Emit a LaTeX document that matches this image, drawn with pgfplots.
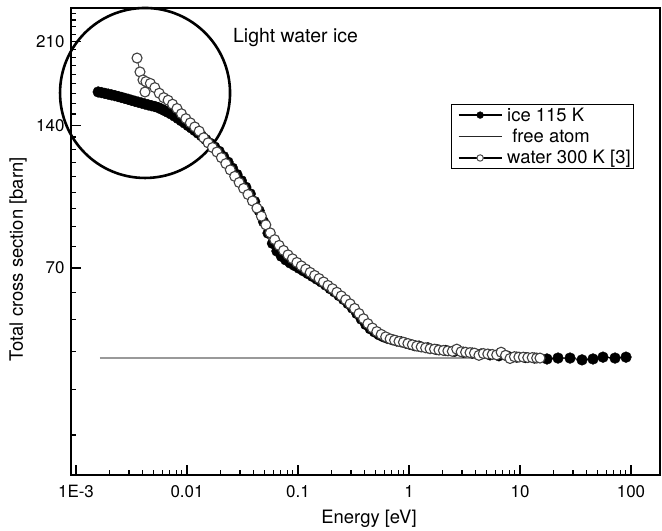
\documentclass[border=0pt]{standalone}
\usepackage{fontspec}
\setmainfont{TeX Gyre Heros}
\usepackage{pgfplots}
\pgfplotsset{compat=1.18}

\begin{document}
\begin{tikzpicture}
\useasboundingbox (-71bp,-56bp) rectangle (591bp,475bp);
\begin{axis}[
  at={(0,0)}, anchor=south west,
  scale only axis,
  width=589bp, height=467bp,
  xmode=log, ymode=log,
  xmin=9.015e-4, xmax=182.5,
  ymin=25.62, ymax=247.3,
  clip=false,
  xtick={0.001,0.01,0.1,1,10,100},
  xticklabels={1E-3,0.01,0.1,1,10,100},
  minor xtick={0.002,0.003,0.004,0.005,0.006,0.007,0.008,0.009,
    0.02,0.03,0.04,0.05,0.06,0.07,0.08,0.09,
    0.2,0.3,0.4,0.5,0.6,0.7,0.8,0.9,
    2,3,4,5,6,7,8,9,20,30,40,50,60,70,80,90},
  ytick={70,140,210},
  yticklabels={70,140,210},
  minor ytick={31.11,38.89,46.67,54.44,62.22,77.78,85.56,93.33,101.1,108.9,116.7,124.4,132.2,
    147.8,155.6,163.3,171.1,178.9,186.7,194.4,202.2,217.8,225.6,233.3,241.1},
  xtick pos=bottom, ytick pos=left,
  major tick length=10bp, minor tick length=5bp,
  every tick/.style={black, line width=1.1bp},
  axis line style={line width=1.5bp},
  tick label style={font=\fontsize{17}{20}\selectfont},
  xticklabel style={yshift=-7bp},
  yticklabel style={xshift=-3bp},
  /pgf/number format/assume math mode=true,
  xlabel={Energy [eV]},
  ylabel={Total cross section [barn]},
  xlabel style={at={(axis description cs:0.506,-0.1028)}, anchor=base, font=\fontsize{18.5}{22}\selectfont},
  ylabel style={at={(axis description cs:-0.0815,0.462)}, anchor=base, font=\fontsize{18.5}{22}\selectfont},
  legend style={at={(axis description cs:0.956,0.794)}, anchor=north east,
    font=\fontsize{18.5}{21}\selectfont, draw=black, line width=0.9bp,
    inner xsep=1bp, inner ysep=1bp, row sep=2.5bp, cells={anchor=west}},
  legend image code/.code={
    \path (-6bp,0bp) (46bp,0bp);
    \draw[mark repeat=2,mark phase=2,#1] plot coordinates {(0bp,0bp) (21.5bp,0bp) (43bp,0bp)};},
]

% ice 115 K
\addplot[draw=black, line width=1bp, mark=*, mark size=5.4bp,
  mark options={solid, fill=black, draw=black, line width=0.4bp},
  legend image post style={mark size=3.4bp, line width=1.2bp}] table {
E v
0.001585 164.5
0.001698 164.0
0.001820 163.4
0.001950 162.8
0.002089 162.2
0.002239 161.6
0.002399 160.9
0.002570 160.2
0.002754 159.5
0.002951 158.8
0.003162 158.0
0.003388 157.3
0.003631 156.6
0.003890 155.9
0.004169 155.2
0.004467 154.5
0.004786 153.9
0.005129 153.3
0.005495 152.5
0.005888 151.4
0.006310 150.2
0.006761 149.0
0.007244 147.7
0.007762 146.2
0.008318 144.6
0.008913 143.0
0.009550 141.4
0.01023 139.7
0.01096 138.1
0.01175 136.4
0.01259 134.7
0.01349 133.0
0.01479 130.5
0.01622 128.2
0.01778 125.9
0.01950 123.3
0.02138 120.2
0.02344 117.0
0.02570 113.6
0.02818 110.2
0.03090 106.9
0.03388 103.6
0.03715 100.3
0.04074 96.6
0.04467 92.4
0.04898 87.6
0.05370 82.9
0.05888 78.9
0.06457 76.0
0.07079 74.1
0.07762 72.8
0.08511 71.7
0.09333 70.8
0.1023 69.9
0.1122 69.0
0.1230 68.1
0.1349 67.2
0.1479 66.3
0.1622 65.4
0.1778 64.4
0.1950 63.3
0.2138 62.3
0.2344 61.2
0.2570 60.1
0.2818 58.9
0.3090 57.6
0.3388 56.1
0.3715 54.6
0.4074 53.2
0.4467 52.1
0.4898 51.3
0.5370 50.6
0.5888 50.1
0.6457 49.7
0.7079 49.4
0.7762 49.1
0.8511 48.9
0.9333 48.6
1.023 48.3
1.122 48.0
1.230 47.9
1.479 47.5
1.778 47.1
2.138 46.9
2.570 46.7
3.090 46.5
3.715 46.3
4.467 46.1
5.370 45.9
6.457 45.7
7.762 45.6
9.333 45.4
11.22 45.3
13.49 45.2
17.51 45.0
22.00 45.2
28.22 45.2
36.20 44.8
45.46 45.0
55.93 45.4
71.76 45.2
90.16 45.4
};
\addlegendentry{ice 115 K}

% free atom
\addplot[draw=black!40, line width=2bp, mark=none,
  legend image post style={draw=black!85, line width=1.2bp}] coordinates {
(0.001644,45.3) (15.0,45.3)
};
\addlegendentry{~free atom}

% water 300 K [3]
\addplot[draw=black!70, line width=1bp, mark=*, mark size=5bp,
  mark options={solid, fill=white, draw=black!75, line width=1.1bp},
  legend image post style={draw=black, line width=1.2bp, mark size=3.2bp,
    mark options={solid, fill=white, draw=black!70, line width=1bp}}] table {
E v
0.003548 194.0
0.003772 181.3
0.004014 174.4
0.004184 164.5
0.004266 173.0
0.004677 171.5
0.005129 168.0
0.005623 163.5
0.006166 160.0
0.006761 158.0
0.007413 155.0
0.008128 151.8
0.008913 148.0
0.009772 144.5
0.01072 141.6
0.01175 138.8
0.01288 136.0
0.01413 131.7
0.01549 128.5
0.01698 125.6
0.01862 122.9
0.02042 119.6
0.02239 116.2
0.02455 112.7
0.02692 109.2
0.02951 106.0
0.03236 103.0
0.03548 100.0
0.03890 96.9
0.04266 93.6
0.04677 90.0
0.05129 86.3
0.05623 83.0
0.06166 80.3
0.06761 78.1
0.07413 76.2
0.08128 74.6
0.08913 73.2
0.09772 71.9
0.1072 70.7
0.1175 69.6
0.1288 68.5
0.1413 67.5
0.1549 66.5
0.1698 65.4
0.1862 64.3
0.2042 63.3
0.2239 62.2
0.2455 61.1
0.2692 60.0
0.2951 58.8
0.3236 57.5
0.3548 56.1
0.3890 54.7
0.4266 53.4
0.4677 52.3
0.5129 51.4
0.5623 50.7
0.6166 50.1
0.6761 49.6
0.7413 49.3
0.8128 49.0
0.8913 48.8
0.9772 48.5
1.072 48.2
1.175 47.9
1.288 47.7
1.413 47.5
1.549 47.3
1.698 47.2
1.862 47.0
2.042 46.9
2.239 46.8
2.455 46.7
2.692 47.2
2.951 46.6
3.236 46.5
3.548 46.4
3.890 46.3
4.266 45.8
4.677 46.2
5.129 46.1
5.623 46.0
6.166 45.9
6.761 46.5
7.413 45.8
8.128 45.1
8.913 45.5
9.772 45.4
10.72 45.4
11.75 45.3
12.88 45.3
14.13 45.2
15.14 45.2
};
\addlegendentry{water 300 K [3]}

\draw[line width=2.6bp] (axis cs:0.004188,163.7) circle[radius=85bp];
\node[anchor=west, inner sep=0pt, font=\fontsize{19.5}{23}\selectfont] at (axis description cs:0.275,0.936) {Light water ice};
\end{axis}
\end{tikzpicture}
\end{document}
